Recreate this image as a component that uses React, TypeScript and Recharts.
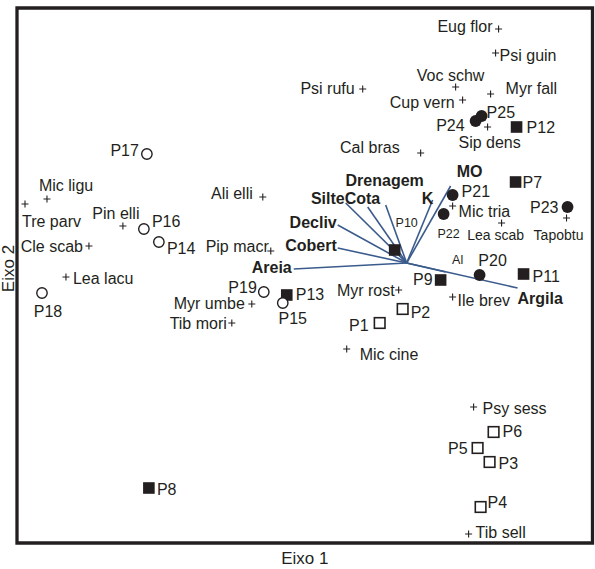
import { ReferenceArea, ReferenceLine, Scatter, ScatterChart, XAxis, YAxis } from 'recharts';

// CCA scores (axis 1 = x, axis 2 = y)
const speciesNames = [
  'Eug flor', 'Psi guin', 'Psi rufu', 'Voc schw', 'Myr fall', 'Cup vern', 'Sip dens', 'Cal bras',
  'Mic tria', 'Lea scab', 'Tapobtu', 'Ile brev', 'Myr rost', 'Mic cine', 'Psy sess', 'Tib sell',
  'Mic ligu', 'Tre parv', 'Pin elli', 'Cle scab', 'Ali elli', 'Pip macr', 'Lea lacu', 'Myr umbe', 'Tib mori',
];
const speciesX = [
  0.92, 0.89, -0.44, 0.49, 0.84, 0.56, 0.81, 0.14,
  0.46, 0.95, 1.6, 0.46, -0.08, -0.6, 0.67, 0.62,
  -3.6, -3.82, -2.84, -3.18, -1.44, -1.36, -3.41, -1.55, -1.75,
];
const speciesY = [
  2.34, 2.1, 1.74, 1.76, 1.69, 1.63, 1.36, 1.1,
  0.57, 0.4, 0.45, -0.34, -0.27, -0.86, -1.44, -2.71,
  0.64, 0.59, 0.37, 0.17, 0.66, 0.12, -0.14, -0.41, -0.6,
];

const siteNames = [
  'P1', 'P2', 'P3', 'P4', 'P5', 'P6',
  'P7', 'P8', 'P9', 'P10', 'P11', 'P12', 'P13',
  'P14', 'P15', 'P16', 'P17', 'P18', 'P19',
  'P20', 'P21', 'P22', 'P23', 'P24', 'P25',
];
const siteX = [
  -0.27, -0.04, 0.83, 0.74, 0.71, 0.87,
  1.09, -2.58, 0.34, -0.12, 1.17, 1.1, -1.2,
  -2.48, -1.24, -2.63, -2.6, -3.65, -1.43,
  0.73, 0.46, 0.37, 1.61, 0.69, 0.75,
];
const siteY = [
  -0.6, -0.46, -1.99, -2.44, -1.85, -1.69,
  0.81, -2.25, -0.17, 0.13, -0.11, 1.36, -0.32,
  0.21, -0.4, 0.34, 1.09, -0.3, -0.29,
  -0.12, 0.68, 0.49, 0.56, 1.42, 1.47,
];
const siteGroup = [
  'openSquare', 'openSquare', 'openSquare', 'openSquare', 'openSquare', 'openSquare',
  'square', 'square', 'square', 'square', 'square', 'square', 'square',
  'openCircle', 'openCircle', 'openCircle', 'openCircle', 'openCircle', 'openCircle',
  'circle', 'circle', 'circle', 'circle', 'circle', 'circle',
];

const envNames = ['Areia', 'Cobert', 'Decliv', 'Silte', 'Cota', 'Drenagem', 'K', 'MO', 'Al', 'Argila'];
const envX = [-1.13, -0.69, -0.69, -0.61, -0.39, -0.21, 0.26, 0.44, 0.39, 1.11];
const envY = [-0.06, 0.15, 0.38, 0.6, 0.56, 0.58, 0.63, 0.77, -0.09, -0.25];

const X_DOMAIN: [number, number] = [-3.9, 1.86];
const Y_DOMAIN: [number, number] = [-2.8, 2.55];

// label placement: [dx, dy, anchor]
type Anchor = 'start' | 'middle' | 'end';
const labelPos: Record<string, [number, number, Anchor]> = {
  'Eug flor': [-6, -3, 'end'], 'Psi guin': [4, 2, 'start'], 'Psi rufu': [-8, -1, 'end'],
  'Voc schw': [-5, -12, 'middle'], 'Myr fall': [15, -6, 'start'], 'Cup vern': [-8, 2, 'end'],
  'Sip dens': [2, 15, 'middle'], 'Cal bras': [-21, -6, 'end'], 'Mic tria': [6, 5, 'start'],
  'Lea scab': [-6, 12, 'middle'], Tapobtu: [-8, 17, 'middle'], 'Ile brev': [5, 3, 'start'],
  'Myr rost': [-4, 0, 'end'], 'Mic cine': [13, 5, 'start'], 'Psy sess': [9, 1, 'start'],
  'Tib sell': [7, -2, 'start'], 'Mic ligu': [-8, -14, 'start'], 'Tre parv': [-3, 17, 'start'],
  'Pin elli': [-7, -13, 'middle'], 'Cle scab': [-6, 0, 'end'], 'Ali elli': [-10, -4, 'end'],
  'Pip macr': [-2, -5, 'end'], 'Lea lacu': [7, 1, 'start'], 'Myr umbe': [-7, -1, 'end'],
  'Tib mori': [-5, 0, 'end'],
  P1: [-11, 2, 'end'], P2: [8, 3, 'start'], P3: [9, 1, 'start'], P4: [7, -5, 'start'],
  P5: [-10, 0, 'end'], P6: [9, -1, 'start'], P7: [7, 0, 'start'], P8: [8, 1, 'start'],
  P9: [-8, -1, 'end'], P10: [12, -28, 'middle'], P11: [9, 2, 'start'], P12: [10, 0, 'start'],
  P13: [9, -1, 'start'], P14: [8, 6, 'start'], P15: [10, 15, 'middle'], P16: [8, -8, 'start'],
  P17: [-8, -4, 'end'], P18: [6, 18, 'middle'], P19: [-7, -5, 'end'], P20: [13, -15, 'middle'],
  P21: [9, -4, 'start'], P22: [5, 19, 'middle'], P23: [-9, 0, 'end'], P24: [-11, 4, 'end'],
  P25: [5, -4, 'start'],
  Areia: [-2, -2, 'end'], Cobert: [-1, -3, 'end'], Decliv: [-1, -3, 'end'], Silte: [-1, -5, 'end'],
  Cota: [-23, -9, 'start'], Drenagem: [-1, -25, 'middle'], K: [-5, -2, 'middle'],
  MO: [19, -15, 'middle'], Al: [12, -13, 'middle'], Argila: [0, 10, 'start'],
};
const smallLabels = ['P10', 'P22', 'Al'];
const mediumLabels = ['Lea scab', 'Tapobtu'];

const INK = '#231f20';
const VECTOR = '#3b5b8c';
const FONT = '"Liberation Sans", Arial, sans-serif';

const species = speciesNames.map((name, i) => ({ name, x: speciesX[i], y: speciesY[i] }));
const sites = siteNames.map((name, i) => ({ name, x: siteX[i], y: siteY[i], group: siteGroup[i] }));
const env = envNames.map((name, i) => ({ name, x: envX[i], y: envY[i] }));

function Label({ name, cx, cy, bold }: { name: string; cx: number; cy: number; bold?: boolean }) {
  const [dx, dy, anchor] = labelPos[name] ?? [6, 0, 'start'];
  const size = smallLabels.includes(name) ? 12.5 : mediumLabels.includes(name) ? 14 : 16;
  return (
    <text
      x={cx + dx}
      y={cy + dy + size * 0.36}
      textAnchor={anchor}
      fontSize={size}
      fontWeight={bold && name !== 'Al' ? 700 : 400}
      fill={INK}
      fontFamily={FONT}
    >
      {name}
    </text>
  );
}

function SpeciesShape(props: any) {
  const { cx, cy, payload } = props;
  const a = 3.5;
  return (
    <g>
      <path d={`M${cx - a},${cy}H${cx + a}M${cx},${cy - a}V${cy + a}`} stroke={INK} strokeWidth={1.1} />
      <Label name={payload.name} cx={cx} cy={cy} />
    </g>
  );
}

function SiteShape(props: any) {
  const { cx, cy, payload } = props;
  let mark;
  if (payload.group === 'openSquare') {
    mark = <rect x={cx - 5.3} y={cy - 5.3} width={10.6} height={10.6} fill="#fff" stroke={INK} strokeWidth={1.6} />;
  } else if (payload.group === 'square') {
    mark = <rect x={cx - 5.8} y={cy - 5.8} width={11.6} height={11.6} fill={INK} />;
  } else if (payload.group === 'openCircle') {
    mark = <circle cx={cx} cy={cy} r={5.2} fill="#fff" stroke={INK} strokeWidth={1.4} />;
  } else {
    mark = <circle cx={cx} cy={cy} r={5.9} fill={INK} />;
  }
  return (
    <g>
      {mark}
      <Label name={payload.name} cx={cx} cy={cy} />
    </g>
  );
}

function EnvShape(props: any) {
  const { cx, cy, payload } = props;
  return <Label name={payload.name} cx={cx} cy={cy} bold />;
}

export default function App() {
  return (
    <div style={{ position: 'absolute', left: 0, top: 0, background: '#fff' }}>
      <ScatterChart width={595} height={569} margin={{ top: 8, right: 2.5, bottom: 0, left: 0 }}>
        <XAxis
          type="number"
          dataKey="x"
          domain={X_DOMAIN}
          allowDataOverflow
          tick={false}
          tickLine={false}
          axisLine={false}
          height={26}
          label={{ value: 'Eixo 1', position: 'insideBottom', offset: 5, fill: INK, fontSize: 17, fontFamily: FONT }}
        />
        <YAxis
          type="number"
          dataKey="y"
          domain={Y_DOMAIN}
          allowDataOverflow
          tick={false}
          tickLine={false}
          axisLine={false}
          width={17}
          label={{
            content: (p: any) => {
              const vb = p.viewBox;
              return (
                <text
                  transform={`translate(${vb.x + 13.5}, ${vb.y + vb.height / 2 - 7}) rotate(-90)`}
                  textAnchor="middle"
                  fontSize={17}
                  fill={INK}
                  fontFamily={FONT}
                >
                  Eixo 2
                </text>
              );
            },
          }}
        />
        <ReferenceArea
          x1={X_DOMAIN[0]}
          x2={X_DOMAIN[1]}
          y1={Y_DOMAIN[0]}
          y2={Y_DOMAIN[1]}
          fill="none"
          fillOpacity={0}
          stroke={INK}
          strokeWidth={3.3}
          ifOverflow="visible"
        />
        {env.map((e) => (
          <ReferenceLine
            key={e.name}
            segment={[{ x: 0, y: 0 }, { x: e.x, y: e.y }]}
            stroke={VECTOR}
            strokeWidth={1.6}
            ifOverflow="visible"
          />
        ))}
        <Scatter data={species} shape={SpeciesShape} isAnimationActive={false} />
        <Scatter data={sites} shape={SiteShape} isAnimationActive={false} />
        <Scatter data={env} shape={EnvShape} isAnimationActive={false} />
      </ScatterChart>
    </div>
  );
}
